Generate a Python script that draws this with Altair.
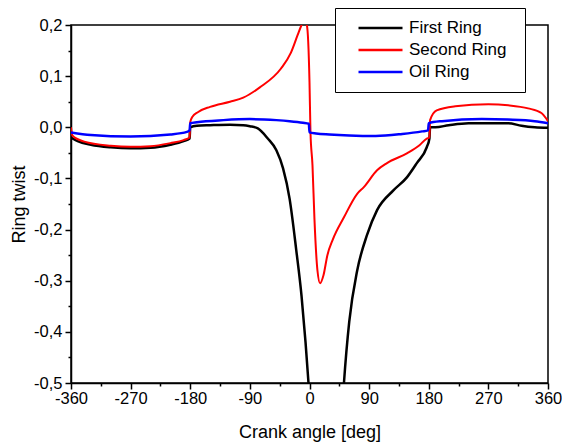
import altair as alt
import pandas as pd

series_names = ["First Ring", "Second Ring", "Oil Ring"]
series_colors = ["#000000", "#ff0000", "#0000ff"]

first_x = [-360, -350, -330, -300, -270, -240, -210, -190, -181, -180, -170, -150, -120, -100, -90, -78,
           -63, -50, -40, -30, -20, -12, -6, -1.5, 5, 25, 45, 52, 60, 72, 87, 102, 127, 147, 162, 177,
           181, 182, 190, 210, 240, 270, 300, 320, 340, 360]
first_y = [-0.020, -0.027, -0.034, -0.039, -0.041, -0.040, -0.034, -0.027, -0.022, 0.000, 0.003, 0.004,
           0.005, 0.004, 0.002, -0.002, -0.022, -0.045, -0.080, -0.140, -0.240, -0.330, -0.420, -0.500,
           -0.650, -0.850, -0.650, -0.500, -0.380, -0.280, -0.210, -0.162, -0.123, -0.098, -0.070,
           -0.039, -0.022, 0.000, 0.000, 0.004, 0.008, 0.008, 0.008, 0.003, 0.000, -0.001]

second_x = [-360, -358, -340, -300, -270, -240, -210, -190, -181, -180, -177, -168, -150, -120, -100,
            -75, -43, -28, -18, -12, -8, -4, 0, 1.5, 4.5, 7.5, 12, 16, 21, 27, 35, 52, 72, 82, 102,
            117, 147, 166, 177, 181, 182, 192, 220, 270, 300, 330, 350, 360]
second_y = [0.000, -0.016, -0.028, -0.036, -0.038, -0.037, -0.031, -0.025, -0.020, 0.010, 0.020,
            0.030, 0.040, 0.050, 0.058, 0.078, 0.115, 0.146, 0.180, 0.200, 0.210, 0.200, 0.088,
            -0.010, -0.074, -0.180, -0.280, -0.305, -0.290, -0.250, -0.220, -0.176, -0.130, -0.117,
            -0.084, -0.070, -0.051, -0.035, -0.022, -0.020, 0.014, 0.033, 0.041, 0.045, 0.043,
            0.037, 0.028, 0.012]

oil_x = [-360, -330, -270, -210, -185, -181, -180, -170, -130, -90, -50, -30, -10, -1, 0, 10, 30, 60,
         100, 140, 170, 179, 180, 200, 260, 300, 340, 360]
oil_y = [-0.010, -0.015, -0.018, -0.014, -0.009, -0.006, 0.008, 0.010, 0.014, 0.016, 0.014, 0.012,
         0.009, 0.007, -0.010, -0.012, -0.014, -0.016, -0.017, -0.013, -0.008, -0.006, 0.008, 0.012,
         0.016, 0.015, 0.012, 0.008]

x_ticks = list(range(-360, 361, 45))
y_ticks = [v / 100 for v in range(-50, 21, 5)]

color_scale = alt.Scale(domain=series_names, range=series_colors)


def make_layer(xs, ys, name, width):
    df = pd.DataFrame({"angle": xs, "twist": ys, "series": name})
    return alt.Chart(df).mark_line(clip=True, strokeWidth=width, interpolate="monotone").encode(
        x=alt.X("angle:Q", scale=alt.Scale(domain=[-360, 360], nice=False),
                axis=alt.Axis(values=x_ticks, title="Crank angle [deg]", labelFlush=False,
                              labelOverlap=False,
                              labelExpr="datum.value % 90 == 0 ? '' + datum.value : ''",
                              tickSize={"condition": {"test": "datum.value % 90 == 0", "value": 6}, "value": 3},
                              labelPadding=1, titlePadding=17)),
        y=alt.Y("twist:Q", scale=alt.Scale(domain=[-0.5, 0.2], nice=False),
                axis=alt.Axis(values=y_ticks, title="Ring twist", labelFlush=False,
                              labelOverlap=False,
                              labelExpr="abs(round(datum.value*20)) % 2 == 0 ? (datum.value < -0.001 ? '-' : '') + replace(format(abs(datum.value), '.1f'), '.', ',') : ''",
                              tickSize={"condition": {"test": "abs(round(datum.value*20)) % 2 == 0", "value": 6}, "value": 3},
                              labelPadding=3, titlePadding=5)),
        color=alt.Color("series:N", scale=color_scale,
                        legend=alt.Legend(title=".", titleOrient="right", titleOpacity=0,
                                          titleFontSize=5, titlePadding=7,
                                          orient="none", legendX=264, legendY=-17,
                                          strokeColor="black", fillColor="white", padding=10,
                                          symbolType="stroke", symbolSize=1936, symbolStrokeWidth=2.5,
                                          symbolOffset=12, labelOffset=5, labelFontSize=17,
                                          clipHeight=20, rowPadding=2)),
        order=alt.Order("angle:Q"),
    )


chart = alt.layer(
    make_layer(first_x, first_y, "First Ring", 2.5),
    make_layer(second_x, second_y, "Second Ring", 2.0),
    make_layer(oil_x, oil_y, "Oil Ring", 2.5),
).properties(
    width=477, height=358,
    autosize=alt.AutoSizeParams(type="none"),
    padding={"left": 63, "top": 17, "right": 14, "bottom": 59},
).configure(
    font="Liberation Sans",
).configure_view(
    stroke="black", strokeWidth=1.5,
).configure_axis(
    grid=False, domainColor="black", domainWidth=1.5, tickColor="black", tickWidth=1.5,
    labelColor="black", titleColor="black", labelFontSize=16.5, titleFontSize=18,
    titleFontWeight="normal", labelFont="Liberation Sans", titleFont="Liberation Sans",
).configure_legend(
    labelColor="black", labelFont="Liberation Sans",
)

chart.save("out.html", embed_options={"renderer": "svg", "actions": False})
